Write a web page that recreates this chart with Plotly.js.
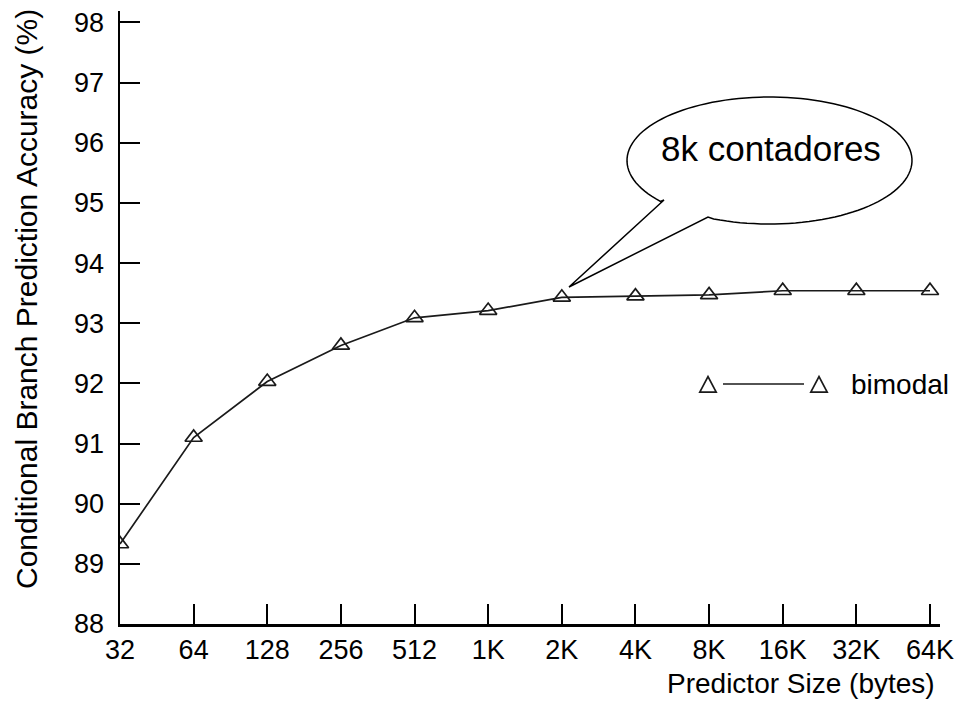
<!DOCTYPE html>
<html>
<head>
<meta charset="utf-8">
<script src="https://cdn.plot.ly/plotly-3.0.1.min.js"></script>
<style>html,body{margin:0;padding:0;background:#fff;}#chart{width:959px;height:704px;}</style>
</head>
<body>
<div id="chart"></div>
<script>
// ---- data ----
const predictorSizes = ['32','64','128','256','512','1K','2K','4K','8K','16K','32K','64K'];
const bimodalAccuracy = [89.33, 91.10, 92.03, 92.63, 93.09, 93.21, 93.43, 93.45, 93.47, 93.54, 93.54, 93.54];
const yTickValues = [88, 89, 90, 91, 92, 93, 94, 95, 96, 97, 98];
const seriesName = 'bimodal';
const calloutText = '8k contadores';
const xTitle = 'Predictor Size (bytes)';
const yTitle = 'Conditional Branch Prediction Accuracy (%)';

// ---- layout geometry (pixels) ----
const W = 959, H = 704;
const M = {l: 120, r: 19, t: 11, b: 80};
const PW = W - M.l - M.r, PH = H - M.t - M.b;
function px(x) { return (x - M.l) / PW; }
function py(y) { return (M.t + PH - y) / PH; }
const FONT = 'Liberation Sans, Arial, Helvetica, sans-serif';

// callout bubble path (paper coords)
function calloutPath() {
  const cx = 769.5, cy = 160.5, rx = 142.5, ry = 63.5;
  const A = [664, 200], T = [569, 287], B = [708, 217];
  const thB = Math.atan2((B[1] - cy) / ry, (B[0] - cx) / rx);
  let thA = Math.atan2((A[1] - cy) / ry, (A[0] - cx) / rx) - 2 * Math.PI;
  let d = 'M' + px(A[0]) + ',' + py(A[1]) + 'L' + px(T[0]) + ',' + py(T[1]) + 'L' + px(B[0]) + ',' + py(B[1]);
  const n = 120;
  for (let i = 1; i <= n; i++) {
    const th = thB + (thA - thB) * i / n;
    d += 'L' + px(cx + rx * Math.cos(th)) + ',' + py(cy + ry * Math.sin(th));
  }
  return d + 'Z';
}
function triPath(cx, cy) {
  const hw = 8.2, up = 8.5, dn = 7.2;
  return 'M' + px(cx - hw) + ',' + py(cy + dn) + 'L' + px(cx + hw) + ',' + py(cy + dn) +
         'L' + px(cx) + ',' + py(cy - up) + 'Z';
}

const trace = {
  x: predictorSizes,
  y: bimodalAccuracy,
  type: 'scatter',
  mode: 'lines+markers',
  name: seriesName,
  line: {color: '#1a1a1a', width: 1.7},
  marker: {symbol: 'triangle-up-open', size: 15, color: '#1a1a1a', line: {width: 1.7, color: '#1a1a1a'}},
  showlegend: false
};

const axisCommon = {
  showline: true, linecolor: '#000', linewidth: 2.5,
  ticks: 'inside', ticklen: 20, tickwidth: 2, tickcolor: '#000',
  tickfont: {family: FONT, size: 27, color: '#000'},
  showgrid: false, zeroline: false, mirror: false
};

const layout = {
  width: W, height: H,
  margin: M,
  paper_bgcolor: '#fff', plot_bgcolor: '#fff',
  font: {family: FONT, color: '#000'},
  xaxis: Object.assign({}, axisCommon, {
    type: 'category', range: [0, 11.136], ticklabelstandoff: 0
  }),
  yaxis: Object.assign({}, axisCommon, {
    range: [88, 98.19], tickvals: yTickValues, ticktext: yTickValues.map(String), ticklabelstandoff: 8
  }),
  shapes: [
    {type: 'path', xref: 'paper', yref: 'paper', path: calloutPath(), fillcolor: '#fff', line: {color: '#000', width: 1.5}},
    {type: 'line', xref: 'paper', yref: 'paper', x0: px(723), x1: px(804), y0: py(384), y1: py(384), line: {color: '#1a1a1a', width: 1.7}},
    {type: 'path', xref: 'paper', yref: 'paper', path: triPath(708, 385), line: {color: '#1a1a1a', width: 1.7}},
    {type: 'path', xref: 'paper', yref: 'paper', path: triPath(819, 385), line: {color: '#1a1a1a', width: 1.7}}
  ],
  annotations: [
    {text: calloutText, xref: 'paper', yref: 'paper', x: px(771), y: py(148), xanchor: 'center', yanchor: 'middle', showarrow: false, font: {family: FONT, size: 35, color: '#000'}},
    {text: seriesName, xref: 'paper', yref: 'paper', x: px(849), y: py(384), xanchor: 'left', yanchor: 'middle', showarrow: false, font: {family: FONT, size: 28, color: '#000'}},
    {text: xTitle, xref: 'paper', yref: 'paper', x: px(937), y: py(683), xanchor: 'right', yanchor: 'middle', showarrow: false, font: {family: FONT, size: 28, color: '#000'}},
    {text: yTitle, xref: 'paper', yref: 'paper', x: px(26), y: py(299), xanchor: 'center', yanchor: 'middle', textangle: -90, showarrow: false, font: {family: FONT, size: 30, color: '#000'}}
  ]
};

Plotly.newPlot('chart', [trace], layout, {staticPlot: true, displayModeBar: false});
</script>
</body>
</html>
